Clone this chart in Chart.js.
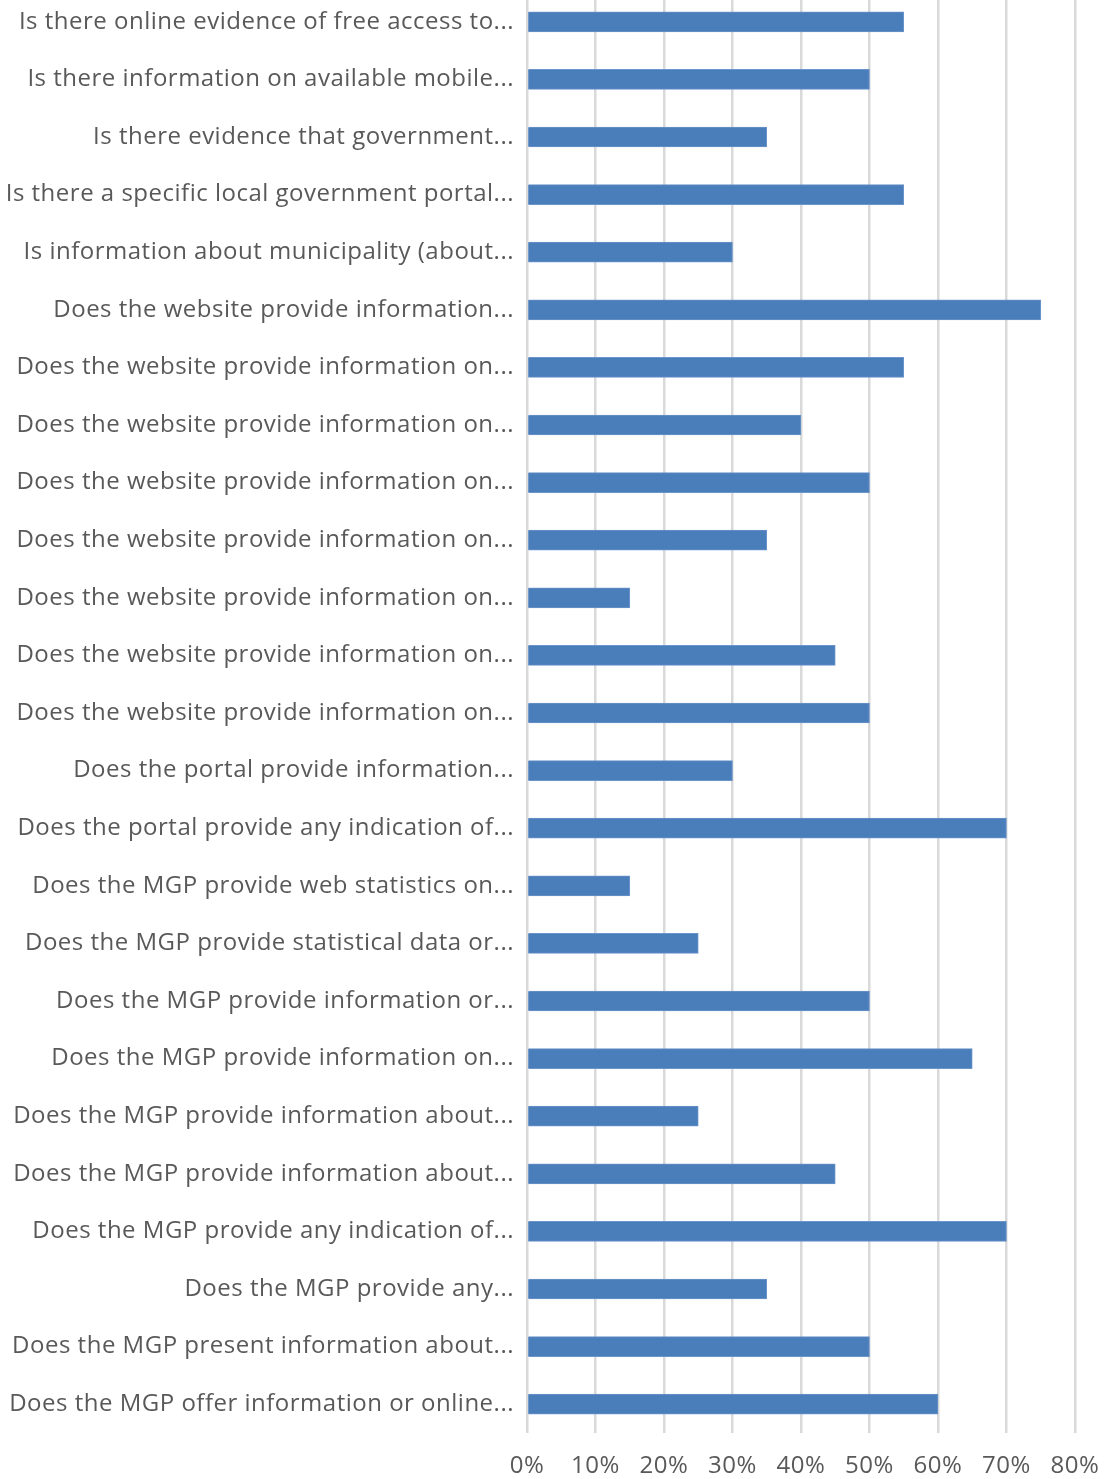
<!DOCTYPE html>
<html><head><meta charset="utf-8">
<script src="https://cdn.jsdelivr.net/npm/chart.js@4/dist/chart.umd.min.js"></script>
<style>
html,body{margin:0;padding:0;background:#fff;overflow:hidden;}
#wrap{position:absolute;left:0;top:-7px;width:1106px;height:1486px;}
</style></head>
<body><div id="wrap"><canvas id="c"></canvas></div>
<script>
const categories = [
"Is there online evidence of free access to...",
"Is there information on available mobile...",
"Is there evidence that government...",
"Is there a specific local government portal...",
"Is information about municipality (about...",
"Does the website provide information...",
"Does the website provide information on...",
"Does the website provide information on...",
"Does the website provide information on...",
"Does the website provide information on...",
"Does the website provide information on...",
"Does the website provide information on...",
"Does the website provide information on...",
"Does the portal provide information...",
"Does the portal provide any indication of...",
"Does the MGP provide web statistics on...",
"Does the MGP provide statistical data or...",
"Does the MGP provide information or...",
"Does the MGP provide information on...",
"Does the MGP provide information about...",
"Does the MGP provide information about...",
"Does the MGP provide any indication of...",
"Does the MGP provide any...",
"Does the MGP present information about...",
"Does the MGP offer information or online..."
];
const values = [55,50,35,55,30,75,55,40,50,35,15,45,50,30,70,15,25,50,65,25,45,70,35,50,60];
const xTicks = [0,10,20,30,40,50,60,70,80];

const FONT = "'Open Sans', 'DejaVu Sans', sans-serif";
const noPad = s => { s.paddingTop = 0; s.paddingBottom = 0; s.paddingLeft = 0; s.paddingRight = 0; };
const spacing = { id: 'spacing', beforeDraw: c => { c.ctx.letterSpacing = '0.5px'; } };
new Chart(document.getElementById('c'), {
  type: 'bar',
  data: { labels: categories, datasets: [{ data: values, backgroundColor: '#4a7ebb', borderColor: '#6b95c9', borderWidth: 1, barThickness: 20 }] },
  plugins: [spacing],
  options: {
    indexAxis: 'y', responsive: true, maintainAspectRatio: false, animation: false,
    layout: { padding: { left: 0, right: 31, top: 0, bottom: 0 } },
    plugins: { legend: { display: false }, tooltip: { enabled: false } },
    scales: {
      x: {
        min: 0, max: 80,
        afterBuildTicks: s => { s.ticks = xTicks.map(v => ({ value: v })); },
        afterFit: s => { s.height = 46; noPad(s); },
        grid: { color: '#d9d9d9', lineWidth: 2.5, drawTicks: false },
        border: { display: false },
        ticks: { callback: v => v + '%', color: '#595959', font: { family: FONT, size: 24 }, padding: 19, maxRotation: 0 }
      },
      y: {
        afterFit: s => { s.width = 527; noPad(s); },
        grid: { display: false },
        border: { display: false },
        ticks: { color: '#595959', font: { family: FONT, size: 24 }, padding: 5, autoSkip: false }
      }
    }
  }
});
</script></body></html>
